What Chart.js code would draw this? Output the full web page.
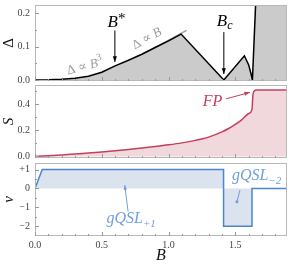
<!DOCTYPE html>
<html>
<head>
<meta charset="utf-8">
<script src="https://cdn.jsdelivr.net/npm/chart.js@4.4.1/dist/chart.umd.min.js"></script>
<style>
    html, body { margin: 0; padding: 0; background: #fff; }
    #wrap { position: relative; width: 291px; height: 264px; }
    canvas { position: absolute; left: 0; }
</style>
</head>
<body>
<div id="wrap">
    <canvas id="gapChart" style="top:0" width="291" height="83"></canvas>
    <canvas id="entChart" style="top:83px" width="291" height="77"></canvas>
    <canvas id="windChart" style="top:160px" width="291" height="104"></canvas>
</div>
<script>
// Gap Delta vs field B
const gapB    = [0, 0.1, 0.2, 0.3, 0.4, 0.5, 0.6, 0.7, 0.8, 0.9, 1.0, 1.094, 1.414, 1.568, 1.600, 1.618, 1.628, 1.66, 1.887];
const gapVals = [0, 0.0005, 0.002, 0.005, 0.011, 0.023, 0.042, 0.059, 0.077, 0.097, 0.117, 0.137, 0.0, 0.072, 0.045, 0.018, 0.0, 0.3, 0.3];

// guide line "Delta ~ B"
const guideB    = [0.49, 1.135];
const guideVals = [0.008, 0.148];

// Entropy S
const entB    = [0, 0.1, 0.2, 0.3, 0.4, 0.5, 0.6, 0.7, 0.8, 0.9, 1.0, 1.1, 1.2, 1.3, 1.4, 1.45, 1.5, 1.55, 1.6, 1.625, 1.632, 1.645, 1.66, 1.887];
const entVals = [0, 0.006, 0.012, 0.019, 0.026, 0.034, 0.043, 0.053, 0.064, 0.076, 0.089, 0.104, 0.123, 0.148, 0.188, 0.214, 0.245, 0.282, 0.328, 0.36, 0.47, 0.503, 0.508, 0.508];

// Chern number nu
const windB    = [0, 0.054, 1.412, 1.412, 1.625, 1.625, 1.887];
const windVals = [0, 1, 1, -2, -2, 0, 0];

const xTicks     = [0, 0.5, 1.0, 1.5];
const gapTicks   = [0, 0.1, 0.2];
const entTicks   = [0, 0.2, 0.4];
const windTicks  = [1, 0, -1, -2];

const serif = "'Liberation Serif', 'DejaVu Serif', serif";
const tickColor = '#444';

function pts(xs, ys) {
    return xs.map((x, i) => ({ x: x, y: ys[i] }));
}

function arrow(ctx, x1, y1, x2, y2, color, head) {
    ctx.strokeStyle = color;
    ctx.fillStyle = color;
    ctx.lineWidth = 1;
    ctx.beginPath();
    ctx.moveTo(x1, y1);
    ctx.lineTo(x2, y2);
    ctx.stroke();
    const ang = Math.atan2(y2 - y1, x2 - x1);
    ctx.beginPath();
    ctx.moveTo(x2, y2);
    ctx.lineTo(x2 - head * Math.cos(ang - 0.35), y2 - head * Math.sin(ang - 0.35));
    ctx.lineTo(x2 - head * Math.cos(ang + 0.35), y2 - head * Math.sin(ang + 0.35));
    ctx.closePath();
    ctx.fill();
}

// parts: [{t, font, dy}] drawn left to right, x = center
function richText(ctx, x, y, parts, color, rot) {
    ctx.save();
    ctx.translate(x, y);
    if (rot) ctx.rotate(rot);
    ctx.fillStyle = color;
    ctx.textBaseline = 'alphabetic';
    ctx.textAlign = 'left';
    let w = 0;
    parts.forEach(p => { ctx.font = p.font; w += ctx.measureText(p.t).width; });
    let cx = -w / 2;
    parts.forEach(p => {
        ctx.font = p.font;
        ctx.fillText(p.t, cx, p.dy || 0);
        cx += ctx.measureText(p.t).width;
    });
    ctx.restore();
}

// grey Mathematica-like frame with small inner ticks
const framePlugin = {
    id: 'frame',
    afterDatasetsDraw(chart) {
        const { ctx, chartArea: a, scales } = chart;
        ctx.save();
        ctx.strokeStyle = '#b8b8b8';
        ctx.lineWidth = 1;
        ctx.strokeRect(a.left + 0.5, a.top + 0.5, a.right - a.left - 1, a.bottom - a.top - 1);
        ctx.strokeStyle = '#999';
        ctx.beginPath();
        for (let i = 0; i <= 18; i++) {
            const px = Math.round(scales.x.getPixelForValue(i / 10)) + 0.5;
            const len = i % 5 === 0 ? 4 : 2;
            ctx.moveTo(px, a.bottom);
            ctx.lineTo(px, a.bottom - len);
        }
        const yt = scales.y.ticks.map(t => t.value);
        const step = Math.abs(yt[1] - yt[0]);
        for (let v = Math.min(...yt) - step; v <= Math.max(...yt) + step; v += step / 2) {
            const py = scales.y.getPixelForValue(v);
            if (py < a.top + 1 || py > a.bottom - 1) continue;
            const major = yt.some(t => Math.abs(t - v) < 1e-6);
            ctx.moveTo(a.left, Math.round(py) + 0.5);
            ctx.lineTo(a.left + (major ? 4 : 2), Math.round(py) + 0.5);
        }
        ctx.stroke();
        ctx.restore();
    }
};

function yAxis(min, max, ticks, title, titleStyle, fmt) {
    return {
        type: 'linear',
        min: min,
        max: max,
        afterBuildTicks: s => { s.ticks = ticks.map(v => ({ value: v })); },
        afterFit: s => { s.width = 35; s.paddingTop = 0; s.paddingBottom = 0; },
        grid: { display: false, drawTicks: false },
        border: { display: false },
        ticks: {
            padding: 5,
            color: tickColor,
            font: { family: serif, size: 10 },
            callback: fmt
        },
        title: {
            display: true,
            text: title,
            color: '#111',
            padding: { top: 2, bottom: 0 },
            font: { family: serif, size: 15, style: titleStyle, lineHeight: 1 }
        }
    };
}

function xAxis(show) {
    return {
        type: 'linear',
        min: 0,
        max: 1.887,
        display: show,
        afterBuildTicks: s => { s.ticks = xTicks.map(v => ({ value: v })); },
        afterFit: s => { if (show) s.height = 28; s.paddingLeft = 0; s.paddingRight = 0; },
        grid: { display: false, drawTicks: false },
        border: { display: false },
        ticks: {
            padding: 3,
            maxRotation: 0,
            color: tickColor,
            font: { family: serif, size: 10 },
            callback: v => v.toFixed(1)
        },
        title: {
            display: show,
            text: 'B',
            color: '#111',
            padding: 0,
            font: { family: serif, size: 16, style: 'italic', lineHeight: 1 }
        }
    };
}

const baseOpts = {
    responsive: false,
    animation: false,
    plugins: { legend: { display: false }, tooltip: { enabled: false } },
    elements: { point: { radius: 0 } }
};

// ---- top panel: gap ----
new Chart(document.getElementById('gapChart'), {
    type: 'line',
    data: {
        datasets: [
            {
                data: pts(gapB, gapVals),
                borderColor: '#000',
                borderWidth: 1.5,
                backgroundColor: '#cbcbcb',
                fill: 'origin',
                tension: 0
            },
            {
                data: pts(guideB, guideVals),
                borderColor: '#a0a0a0',
                borderWidth: 1.5,
                fill: false
            }
        ]
    },
    options: {
        ...baseOpts,
        layout: { padding: { top: 5, bottom: 2, left: 0, right: 4 } },
        scales: {
            x: xAxis(false),
            y: yAxis(-0.003, 0.2239, gapTicks, 'Δ', 'normal', v => v.toFixed(1))
        }
    },
    plugins: [framePlugin, {
        id: 'gapNotes',
        afterDraw(chart) {
            const { ctx, scales: { x, y } } = chart;
            const it = 'italic 17px ' + serif;
            richText(ctx, x.getPixelForValue(0.61), 27, [
                { t: 'B', font: it }, { t: '*', font: '15px ' + serif, dy: -4 }
            ], '#000');
            arrow(ctx, x.getPixelForValue(0.598), y.getPixelForValue(0.148),
                  x.getPixelForValue(0.598), y.getPixelForValue(0.054), '#000', 6);
            richText(ctx, x.getPixelForValue(1.42), 26, [
                { t: 'B', font: it }, { t: 'c', font: 'italic 12px ' + serif, dy: 3 }
            ], '#000');
            arrow(ctx, x.getPixelForValue(1.414), y.getPixelForValue(0.143),
                  x.getPixelForValue(1.414), y.getPixelForValue(0.018), '#000', 6);
            const g = '#9c9c9c';
            richText(ctx, x.getPixelForValue(0.38), y.getPixelForValue(0.03), [
                { t: 'Δ ∝ ', font: '13px ' + serif }, { t: 'B', font: 'italic 13px ' + serif },
                { t: '3', font: '10px ' + serif, dy: -6 }
            ], g, -0.25);
            richText(ctx, x.getPixelForValue(0.85), y.getPixelForValue(0.114), [
                { t: 'Δ ∝ ', font: '13px ' + serif }, { t: 'B', font: 'italic 13px ' + serif }
            ], g, -0.5);
        }
    }]
});

// ---- middle panel: entropy ----
new Chart(document.getElementById('entChart'), {
    type: 'line',
    data: {
        datasets: [{
            data: pts(entB, entVals),
            borderColor: '#c4405a',
            borderWidth: 1.5,
            backgroundColor: '#f1d8dd',
            fill: 'origin',
            cubicInterpolationMode: 'monotone'
        }]
    },
    options: {
        ...baseOpts,
        layout: { padding: { top: 2, bottom: 2, left: 0, right: 4 } },
        scales: {
            x: xAxis(false),
            y: yAxis(-0.0115, 0.546, entTicks, 'S', 'italic', v => v.toFixed(1))
        }
    },
    plugins: [framePlugin, {
        id: 'entNotes',
        afterDraw(chart) {
            const { ctx, scales: { x, y } } = chart;
            const c = '#c4405a';
            richText(ctx, x.getPixelForValue(1.33), y.getPixelForValue(0.385), [
                { t: 'FP', font: 'italic 16px ' + serif }
            ], c);
            arrow(ctx, x.getPixelForValue(1.43), y.getPixelForValue(0.44),
                  x.getPixelForValue(1.61), y.getPixelForValue(0.49), c, 6);
        }
    }]
});

// ---- bottom panel: nu ----
new Chart(document.getElementById('windChart'), {
    type: 'line',
    data: {
        datasets: [{
            data: pts(windB, windVals),
            borderColor: '#4a86d0',
            borderWidth: 1.5,
            backgroundColor: '#dbe3ee',
            fill: 'origin',
            tension: 0
        }]
    },
    options: {
        ...baseOpts,
        layout: { padding: { top: 3, bottom: 0, left: 0, right: 4 } },
        scales: {
            x: xAxis(true),
            y: yAxis(-2.513, 1.349, windTicks, 'ν', 'italic',
                v => v > 0 ? '+' + v : (v < 0 ? '\u2212' + Math.abs(v) : '0'))
        }
    },
    plugins: [framePlugin, {
        id: 'windNotes',
        afterDraw(chart) {
            const { ctx, scales: { x, y } } = chart;
            const c = '#6f9fdc';
            const it = 'italic 16px ' + serif;
            const sub = 'italic 11px ' + serif;
            richText(ctx, x.getPixelForValue(0.72), y.getPixelForValue(-1.83), [
                { t: 'gQSL', font: it }, { t: '+1', font: sub, dy: 4 }
            ], c);
            arrow(ctx, x.getPixelForValue(0.697), y.getPixelForValue(-1.22),
                  x.getPixelForValue(0.672), y.getPixelForValue(0.18), c, 5);
            richText(ctx, x.getPixelForValue(1.66), y.getPixelForValue(0.45), [
                { t: 'gQSL', font: it }, { t: '\u22122', font: sub, dy: 4 }
            ], c);
            ctx.strokeStyle = c;
            ctx.beginPath();
            ctx.moveTo(x.getPixelForValue(1.535), y.getPixelForValue(-0.08));
            ctx.lineTo(x.getPixelForValue(1.512), y.getPixelForValue(-0.70));
            ctx.stroke();
            ctx.beginPath();
            ctx.arc(x.getPixelForValue(1.512), y.getPixelForValue(-0.70), 1.5, 0, Math.PI * 2);
            ctx.fill();
        }
    }]
});
</script>
</body>
</html>
